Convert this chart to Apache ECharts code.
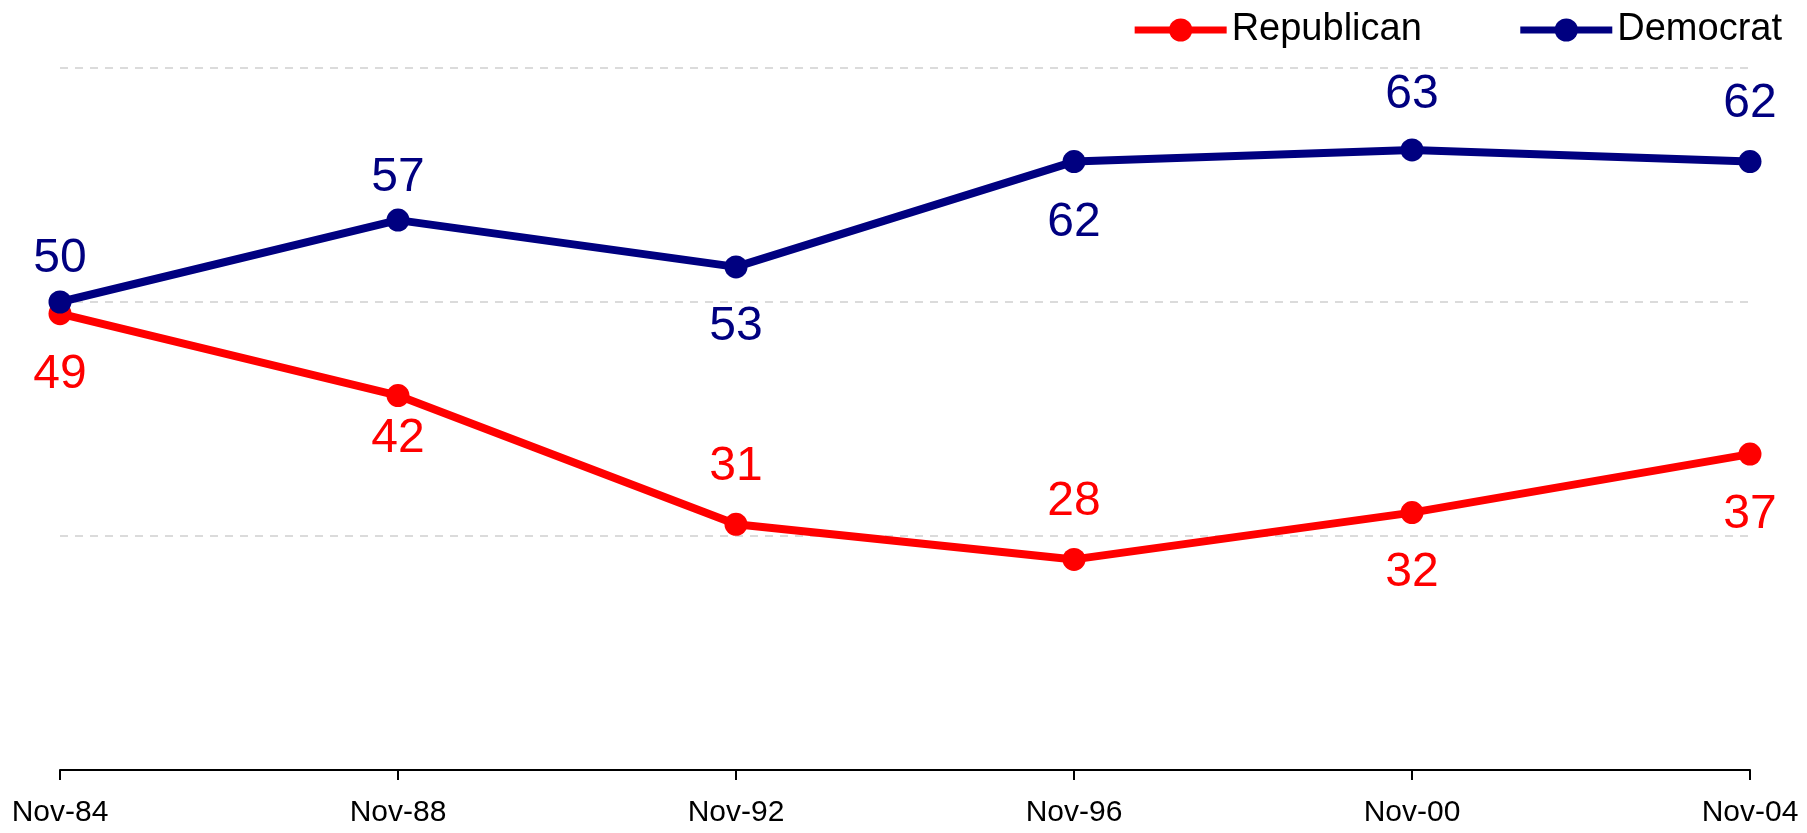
<!DOCTYPE html>
<html>
<head>
<meta charset="utf-8">
<script src="https://cdn.jsdelivr.net/npm/echarts@6/dist/echarts.min.js"></script>
<style>
html,body{margin:0;padding:0;background:#fff;}
#chart{width:1807px;height:833px;}
</style>
</head>
<body>
<div id="chart"></div>
<script>
const categories = ['Nov-84', 'Nov-88', 'Nov-92', 'Nov-96', 'Nov-00', 'Nov-04'];
const republican = [49, 42, 31, 28, 32, 37];
const democrat = [50, 57, 53, 62, 63, 62];
const seriesNames = ['Republican', 'Democrat'];
// vertical label offsets (px) relative to each marker, styling only
const repLabelOffset = [61, 43, -58, -58, 60, 61];
const demLabelOffset = [-43, -42, 60, 61, -55, -58];

const RED = '#FF0000';
const BLUE = '#000080';
const FONT = '"Liberation Sans", Arial, sans-serif';

function buildData(values, offsets) {
  return values.map((v, i) => ({
    value: v,
    label: { offset: [0, offsets[i]] }
  }));
}

function lineSeries(name, values, offsets, color) {
  return {
    name: name,
    type: 'line',
    data: buildData(values, offsets),
    symbol: 'circle',
    symbolSize: 23,
    lineStyle: { color: color, width: 8 },
    itemStyle: { color: color },
    label: {
      show: true,
      position: 'inside',
      color: color,
      fontSize: 48,
      fontFamily: FONT
    },
    emphasis: { disabled: true },
    animation: false
  };
}

const chart = echarts.init(document.getElementById('chart'), null, { renderer: 'canvas' });
chart.setOption({
  backgroundColor: '#ffffff',
  animation: false,
  legend: {
    right: 20,
    top: 6,
    itemWidth: 92,
    itemHeight: 29,
    itemGap: 95,
    lineStyle: { width: 7 },
    textStyle: { fontSize: 38, fontFamily: FONT, color: '#000' },
    data: seriesNames
  },
  grid: { left: 60, right: 57, top: 68, bottom: 63, containLabel: false },
  xAxis: {
    type: 'category',
    data: categories,
    boundaryGap: false,
    axisLine: { show: true, lineStyle: { color: '#000', width: 2 } },
    axisTick: { show: true, length: 10, lineStyle: { color: '#000', width: 2 } },
    axisLabel: { fontSize: 30, fontFamily: FONT, color: '#000', margin: 28 },
    splitLine: { show: false }
  },
  yAxis: {
    type: 'value',
    min: 10,
    max: 70,
    interval: 10,
    axisLine: { show: false },
    axisTick: { show: false },
    axisLabel: { show: false },
    splitLine: {
      show: true,
      lineStyle: {
        color: ['rgba(0,0,0,0)', 'rgba(0,0,0,0)', '#cfcfcf', 'rgba(0,0,0,0)', '#cfcfcf', 'rgba(0,0,0,0)', '#cfcfcf'],
        width: 1.5,
        type: [8, 7]
      }
    }
  },
  series: [
    lineSeries(seriesNames[0], republican, repLabelOffset, RED),
    lineSeries(seriesNames[1], democrat, demLabelOffset, BLUE)
  ]
});
</script>
</body>
</html>
